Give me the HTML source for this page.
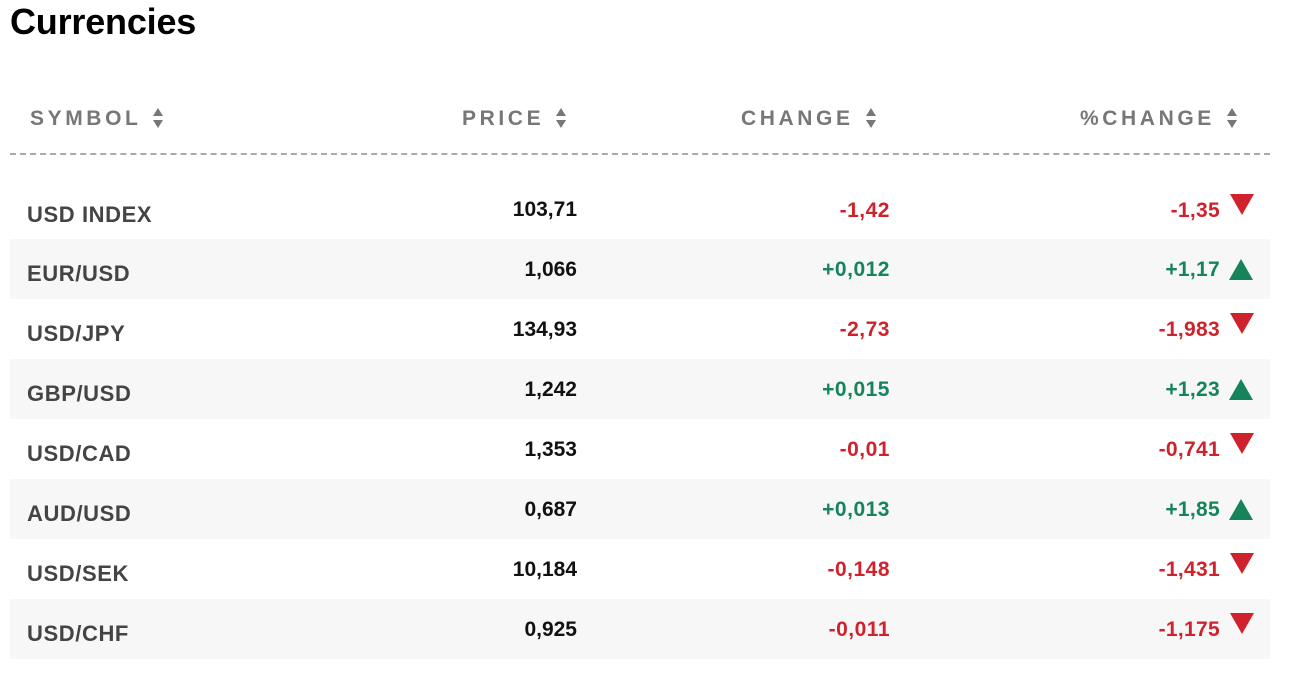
<!DOCTYPE html>
<html><head><meta charset="utf-8"><style>
body{margin:0;width:1298px;height:676px;background:#fff;font-family:"Liberation Sans",Arial,sans-serif;position:relative;overflow:hidden}
h1{position:absolute;left:10px;top:1px;margin:0;font-size:36px;font-weight:bold;color:#000;letter-spacing:-0.2px}
.h{position:absolute;top:107px;font-size:21px;font-weight:bold;color:#777;letter-spacing:3.6px;white-space:nowrap}
.s{display:inline-block;position:relative;width:10px;height:24px;vertical-align:middle;margin-left:12px}
.s:before{content:"";position:absolute;top:1px;left:0;border-left:5px solid transparent;border-right:5px solid transparent;border-bottom:8px solid #777}
.s:after{content:"";position:absolute;top:13px;left:0;border-left:5px solid transparent;border-right:5px solid transparent;border-top:8px solid #777}
.dash{position:absolute;left:10px;top:153px;width:1260px;border-top:2px dashed #aaa}
.row{position:absolute;left:10px;width:1260px;height:60px}
.g{background:#f7f7f7}
.c{position:absolute;font-size:21px;font-weight:bold;white-space:nowrap}
.sym{left:17px;color:#444;letter-spacing:0.6px;font-size:22px}
.pr{right:693px;color:#111}
.ch{right:380px;letter-spacing:0.5px}
.pc{right:50px;letter-spacing:0.3px}
.r{color:#d0222c}.gr{color:#15845a}
.dn{position:absolute;right:16px;width:0;height:0;border-left:12px solid transparent;border-right:12px solid transparent;border-top:21px solid #d0222c}
.up{position:absolute;right:17px;width:0;height:0;border-left:12px solid transparent;border-right:12px solid transparent;border-bottom:21px solid #15845a}
</style></head><body>
<h1>Currencies</h1>
<div class="h" style="left:30px">SYMBOL<span class="s"></span></div>
<div class="h" style="left:462px">PRICE<span class="s"></span></div>
<div class="h" style="left:741px">CHANGE<span class="s"></span></div>
<div class="h" style="left:1080px">%CHANGE<span class="s"></span></div>
<div class="dash"></div>

<div class="row" style="top:180px"><div class="c sym" style="top:22px">USD INDEX</div><div class="c pr" style="top:18px">103,71</div><div class="c ch r" style="top:19px">-1,42</div><div class="c pc r" style="top:19px">-1,35</div><div class="dn" style="top:14px"></div></div>
<div class="row g" style="top:239px"><div class="c sym" style="top:22px">EUR/USD</div><div class="c pr" style="top:19px">1,066</div><div class="c ch gr" style="top:19px">+0,012</div><div class="c pc gr" style="top:19px">+1,17</div><div class="up" style="top:20px"></div></div>
<div class="row" style="top:299px"><div class="c sym" style="top:22px">USD/JPY</div><div class="c pr" style="top:19px">134,93</div><div class="c ch r" style="top:19px">-2,73</div><div class="c pc r" style="top:19px">-1,983</div><div class="dn" style="top:14px"></div></div>
<div class="row g" style="top:359px"><div class="c sym" style="top:22px">GBP/USD</div><div class="c pr" style="top:19px">1,242</div><div class="c ch gr" style="top:19px">+0,015</div><div class="c pc gr" style="top:19px">+1,23</div><div class="up" style="top:20px"></div></div>
<div class="row" style="top:419px"><div class="c sym" style="top:22px">USD/CAD</div><div class="c pr" style="top:19px">1,353</div><div class="c ch r" style="top:19px">-0,01</div><div class="c pc r" style="top:19px">-0,741</div><div class="dn" style="top:14px"></div></div>
<div class="row g" style="top:479px"><div class="c sym" style="top:22px">AUD/USD</div><div class="c pr" style="top:19px">0,687</div><div class="c ch gr" style="top:19px">+0,013</div><div class="c pc gr" style="top:19px">+1,85</div><div class="up" style="top:20px"></div></div>
<div class="row" style="top:539px"><div class="c sym" style="top:22px">USD/SEK</div><div class="c pr" style="top:19px">10,184</div><div class="c ch r" style="top:19px">-0,148</div><div class="c pc r" style="top:19px">-1,431</div><div class="dn" style="top:14px"></div></div>
<div class="row g" style="top:599px"><div class="c sym" style="top:22px">USD/CHF</div><div class="c pr" style="top:19px">0,925</div><div class="c ch r" style="top:19px">-0,011</div><div class="c pc r" style="top:19px">-1,175</div><div class="dn" style="top:14px"></div></div>
</body></html>
